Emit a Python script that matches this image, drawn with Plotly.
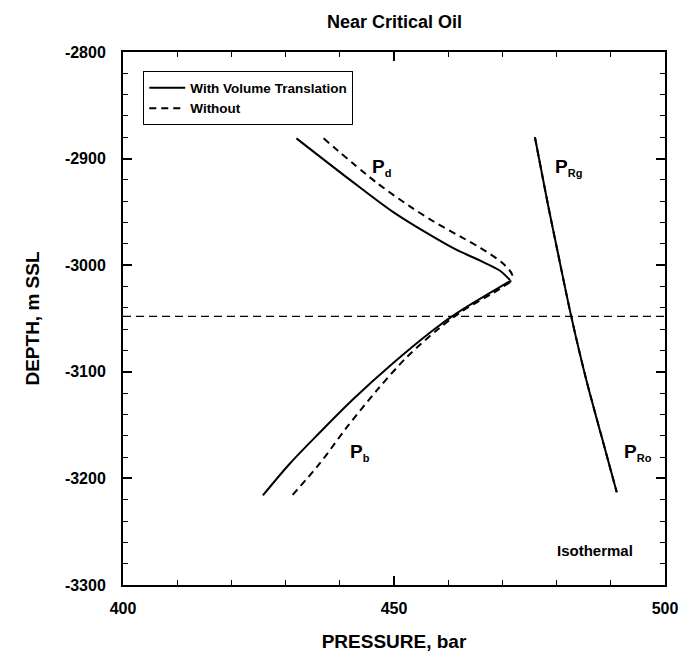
import plotly.graph_objects as go

# Dew-point (Pd) branch, with and without volume translation
pd_vt_pressure = [432.0, 441.9, 449.8, 456.1, 461.3, 466.0, 469.5, 471.4]
pd_vt_depth = [-2881, -2920, -2950, -2970, -2985, -2996, -3005, -3014]
pd_novt_pressure = [437.0, 446.9, 453.0, 457.3, 462.2, 466.0, 470.0, 471.8, 471.4]
pd_novt_depth = [-2881, -2923, -2945, -2959, -2973, -2984, -2998, -3009, -3016]

# Bubble-point (Pb) branch
pb_vt_pressure = [471.4, 461.6, 457.2, 449.8, 442.4, 436.3, 430.8, 425.8]
pb_vt_depth = [-3015, -3045, -3061, -3092, -3126, -3157, -3186, -3216]
pb_novt_pressure = [471.4, 468.3, 462.6, 457.9, 452.4, 446.9, 441.3, 436.3, 431.2]
pb_novt_depth = [-3016, -3026, -3043, -3061, -3086, -3117, -3152, -3186, -3216]

# Reservoir pressure (gas zone above contact, oil zone below)
pr_pressure = [476.0, 478.4, 480.3, 482.7, 485.4, 488.1, 491.1]
pr_depth = [-2880, -2943, -2990, -3048, -3106, -3157, -3213]

# Gas-oil contact depth
contact_depth = -3048

x_range = [400, 500]
y_range = [-3300, -2800]
x_ticks = [400, 450, 500]
x_ticklabels = ["400", "450", "500"]
y_ticks = [-3300, -3200, -3100, -3000, -2900, -2800]
y_ticklabels = ["-3300", "-3200", "-3100", "-3000", "-2900", "-2800"]

FONT = "Liberation Sans, Arial, Helvetica, sans-serif"
BLACK = "black"

fig = go.Figure()

solid = dict(color=BLACK, width=2, shape="spline", smoothing=0.9)
dashed = dict(color=BLACK, width=2, dash="7px,5px", shape="spline", smoothing=0.9)

fig.add_trace(go.Scatter(x=pd_vt_pressure, y=pd_vt_depth, mode="lines", line=solid,
                         name="With Volume Translation", legendgroup="vt"))
fig.add_trace(go.Scatter(x=pd_novt_pressure, y=pd_novt_depth, mode="lines", line=dashed,
                         name="Without", legendgroup="novt"))
fig.add_trace(go.Scatter(x=pb_vt_pressure, y=pb_vt_depth, mode="lines", line=solid,
                         showlegend=False, legendgroup="vt"))
fig.add_trace(go.Scatter(x=pb_novt_pressure, y=pb_novt_depth, mode="lines", line=dashed,
                         showlegend=False, legendgroup="novt"))
fig.add_trace(go.Scatter(x=pr_pressure, y=pr_depth, mode="lines", line=solid,
                         showlegend=False, legendgroup="vt"))
fig.add_trace(go.Scatter(x=pr_pressure, y=pr_depth, mode="lines", line=dashed,
                         showlegend=False, legendgroup="novt"))
fig.add_trace(go.Scatter(x=x_range, y=[contact_depth, contact_depth], mode="lines",
                         line=dict(color=BLACK, width=1.3, dash="8px,5px"), showlegend=False))

label_font = dict(family=FONT, size=19, color=BLACK, weight="bold")
sub = '<sub><span style="font-size:11px">{}</span></sub>'

labels = [
    (445.6, -2908, "P" + sub.format("d")),
    (441.5, -3176, "P" + sub.format("b")),
    (479.3, -2908, "P" + sub.format("Rg")),
    (492.0, -3176, "P" + sub.format("Ro")),
]
for x, y, t in labels:
    fig.add_annotation(x=x, y=y, text=t, showarrow=False, xanchor="left", yanchor="middle",
                       font=label_font)

fig.add_annotation(x=487.1, y=-3268, text="Isothermal", showarrow=False,
                   font=dict(family=FONT, size=15, color=BLACK, weight="bold"))

fig.add_annotation(x=0.5, y=1, xref="paper", yref="paper", yshift=30, text="Near Critical Oil",
                   showarrow=False, yanchor="middle",
                   font=dict(family=FONT, size=18, color=BLACK, weight="bold"))

tick_font = dict(family=FONT, size=16, color=BLACK, weight="bold")
title_font = dict(family=FONT, size=19, color=BLACK, weight="bold")

fig.update_xaxes(range=x_range, tickmode="array", tickvals=x_ticks, ticktext=x_ticklabels,
                 ticks="inside", ticklen=9, tickwidth=1.5, ticklabeloverflow="allow",
                 tickcolor=BLACK, mirror="allticks", showline=True, linewidth=2, linecolor=BLACK,
                 showgrid=False, zeroline=False, tickfont=tick_font, ticklabelstandoff=8,
                 minor=dict(tickmode="linear", tick0=400, dtick=10, ticks="inside", ticklen=5,
                            tickwidth=1.2, tickcolor=BLACK, showgrid=False),
                 title=dict(text="PRESSURE, bar", font=title_font, standoff=18))
fig.update_yaxes(range=y_range, tickmode="array", tickvals=y_ticks, ticktext=y_ticklabels,
                 ticks="inside", ticklen=9, tickwidth=1.5, ticklabeloverflow="allow",
                 tickcolor=BLACK, mirror="allticks", showline=True, linewidth=2, linecolor=BLACK,
                 showgrid=False, zeroline=False, tickfont=tick_font, ticklabelstandoff=12,
                 minor=dict(tickmode="linear", tick0=-3300, dtick=20, ticks="inside", ticklen=5,
                            tickwidth=1.2, tickcolor=BLACK, showgrid=False),
                 title=dict(text="DEPTH, m SSL", font=title_font, standoff=20))

fig.update_layout(
    width=678, height=654,
    margin=dict(l=123, r=13, t=52, b=69, autoexpand=False),
    paper_bgcolor="white", plot_bgcolor="white",
    font=dict(family=FONT, color=BLACK),
    legend=dict(x=0.037, y=0.964, xanchor="left", yanchor="top",
                bgcolor="white", bordercolor=BLACK, borderwidth=1.2,
                font=dict(family=FONT, size=13.5, color=BLACK, weight="bold"),
                tracegroupgap=0, itemwidth=36),
)

fig.write_html("out.html")
